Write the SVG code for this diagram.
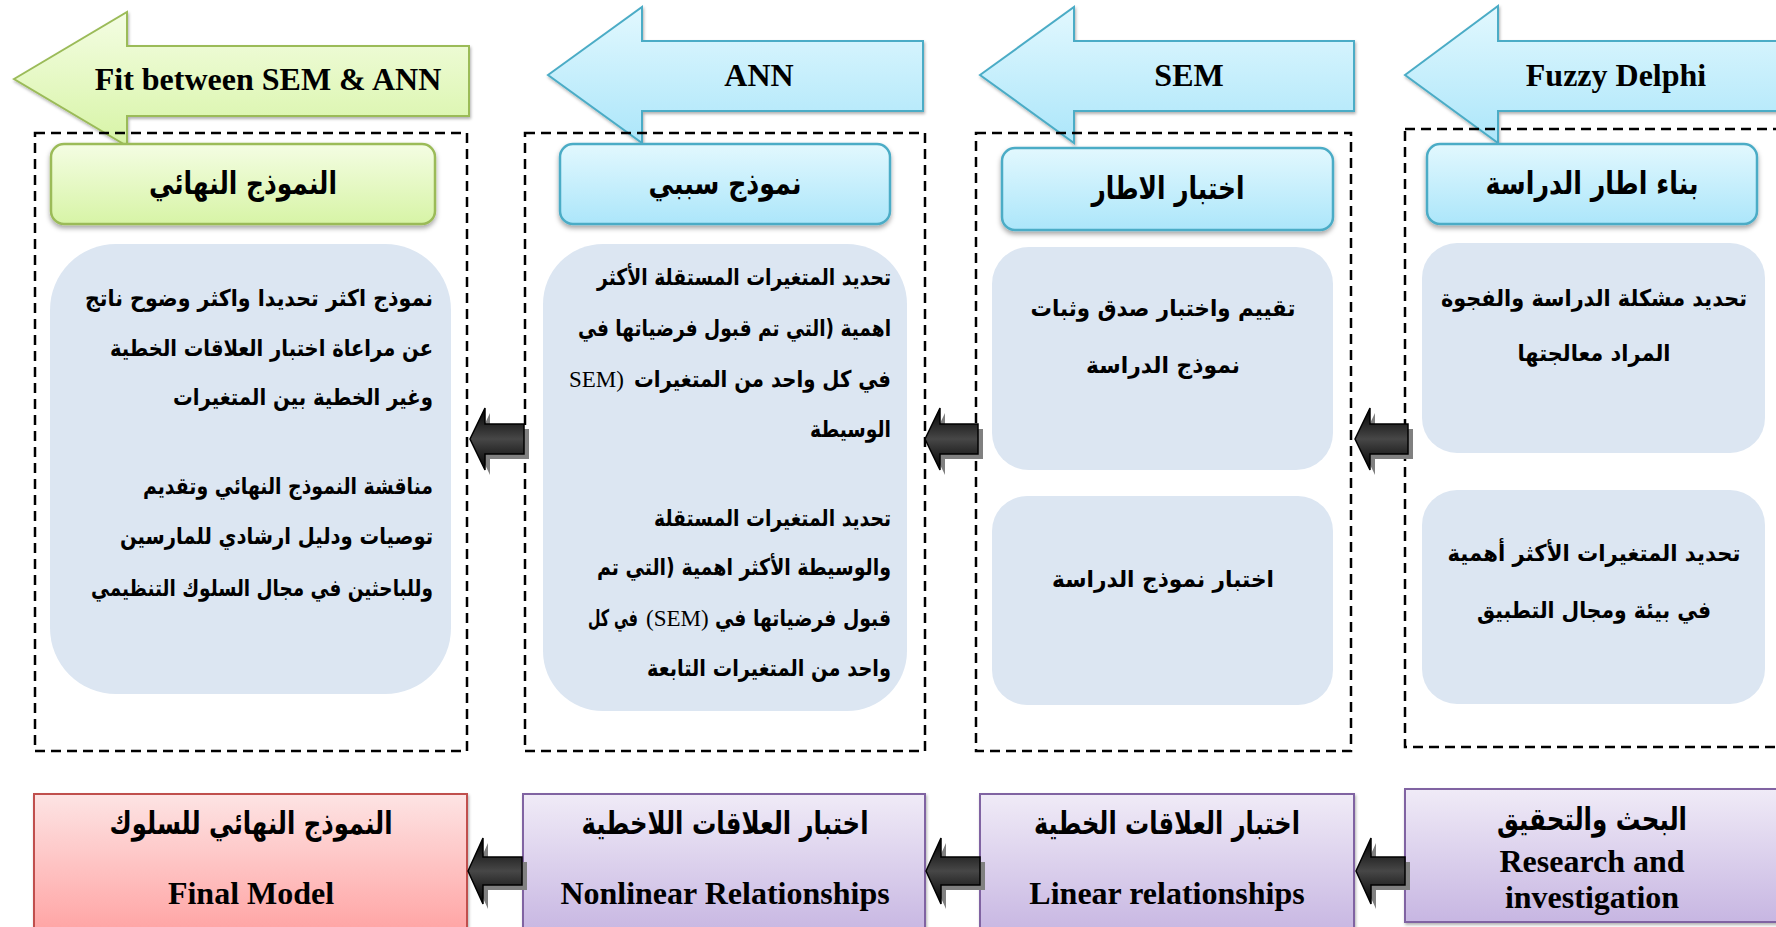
<svg xmlns="http://www.w3.org/2000/svg" width="1776" height="927" viewBox="0 0 1776 927">
  <defs>
    <linearGradient id="gBlue" x1="0" y1="0" x2="0" y2="1">
      <stop offset="0" stop-color="#e2f8fe"/>
      <stop offset="1" stop-color="#ace6fa"/>
    </linearGradient>
    <linearGradient id="gGreen" x1="0" y1="0" x2="0" y2="1">
      <stop offset="0" stop-color="#f4fde3"/>
      <stop offset="1" stop-color="#d7f4a6"/>
    </linearGradient>
    <linearGradient id="gRed" x1="0" y1="0" x2="0" y2="1">
      <stop offset="0" stop-color="#fde4e4"/>
      <stop offset="1" stop-color="#ffa3a3"/>
    </linearGradient>
    <linearGradient id="gPurple" x1="0" y1="0" x2="0" y2="1">
      <stop offset="0" stop-color="#f0ebf7"/>
      <stop offset="1" stop-color="#c7b6e2"/>
    </linearGradient>
    <linearGradient id="gBlack" x1="0" y1="0" x2="0" y2="1">
      <stop offset="0" stop-color="#000"/>
      <stop offset="0.5" stop-color="#474747"/>
      <stop offset="1" stop-color="#000"/>
    </linearGradient>
    <filter id="soft" x="-10%" y="-20%" width="120%" height="150%">
      <feDropShadow dx="0" dy="3" stdDeviation="2.5" flood-color="#000" flood-opacity="0.35"/>
    </filter>
    <filter id="softS" x="-10%" y="-20%" width="120%" height="150%">
      <feDropShadow dx="1" dy="2" stdDeviation="1.5" flood-color="#000" flood-opacity="0.3"/>
    </filter>
  </defs>
  <style>
    .en { font-family: "Liberation Serif", "Times New Roman", serif; font-weight: bold; fill: #000; }
    .ar { font-family: "DejaVu Sans", "Liberation Sans", sans-serif; font-weight: bold; fill: #000; }
    .head { font-size: 31px; }
    .body { font-size: 23px; }
    .title { font-size: 32px; }
    .lat { font-family: "Liberation Serif", "Times New Roman", serif; font-weight: normal; font-size: 23px; fill: #000; }
    .frame { fill: none; stroke: #000; stroke-width: 2.5; stroke-dasharray: 10 6; }
    .panel { fill: #dce6f2; }
    .blueArrow { fill: url(#gBlue); stroke: #4bacc6; stroke-width: 2; filter: url(#softS); }
    .greenArrow { fill: url(#gGreen); stroke: #9bbb59; stroke-width: 2; filter: url(#softS); }
    .blueHead { fill: url(#gBlue); stroke: #4bacc6; stroke-width: 2.5; filter: url(#soft); }
    .greenHead { fill: url(#gGreen); stroke: #9bbb59; stroke-width: 2.5; filter: url(#soft); }
    .redBox { fill: url(#gRed); stroke: #c0504d; stroke-width: 2; filter: url(#softS); }
    .purpleBox { fill: url(#gPurple); stroke: #8064a2; stroke-width: 2; filter: url(#softS); }
    .blk { fill: url(#gBlack); stroke: #000; stroke-width: 1.5; }
    .blkShadow { fill: #808080; }
  </style>

  <!-- stage method arrows -->
  <g id="method-fit">
    <path class="greenArrow" d="M14,79 L127,12 L127,46 L469,46 L469,116 L127,116 L127,146 Z"/>
    <text class="en title" x="268" y="90" text-anchor="middle">Fit between SEM &amp; ANN</text>
  </g>
  <g id="method-ann">
    <path class="blueArrow" d="M548,75 L642,7 L642,41 L923,41 L923,111 L642,111 L642,143 Z"/>
    <text class="en title" x="759" y="86" text-anchor="middle">ANN</text>
  </g>
  <g id="method-sem">
    <path class="blueArrow" d="M980,75 L1074,7 L1074,41 L1354,41 L1354,111 L1074,111 L1074,143 Z"/>
    <text class="en title" x="1189" y="86" text-anchor="middle">SEM</text>
  </g>
  <g id="method-fuzzy">
    <path class="blueArrow" d="M1405,75 L1498,6 L1498,41 L1790,41 L1790,111 L1498,111 L1498,143 Z"/>
    <text class="en title" x="1616" y="86" text-anchor="middle">Fuzzy Delphi</text>
  </g>

  <!-- stage 4: final model -->
  <g id="stage-final">
    <rect class="frame" x="35" y="133" width="432" height="618"/>
    <rect class="greenHead" x="51" y="144" width="384" height="80" rx="13"/>
    <text class="ar head" x="243" y="194" text-anchor="middle" textLength="188" lengthAdjust="spacingAndGlyphs">النموذج النهائي</text>
    <rect class="panel" x="50" y="244" width="401" height="450" rx="66"/>
    <g class="ar body" text-anchor="end">
      <text x="433" y="306" textLength="348" lengthAdjust="spacingAndGlyphs">نموذج اكثر تحديدا واكثر وضوح ناتج</text>
      <text x="433" y="356" textLength="323" lengthAdjust="spacingAndGlyphs">عن مراعاة اختبار العلاقات الخطية</text>
      <text x="433" y="405" textLength="260" lengthAdjust="spacingAndGlyphs">وغير الخطية بين المتغيرات</text>
      <text x="433" y="494" textLength="290" lengthAdjust="spacingAndGlyphs">مناقشة النموذج النهائي وتقديم</text>
      <text x="433" y="544" textLength="313" lengthAdjust="spacingAndGlyphs">توصيات ودليل ارشادي للمارسين</text>
      <text x="433" y="596" textLength="342" lengthAdjust="spacingAndGlyphs">وللباحثين في مجال السلوك التنظيمي</text>
    </g>
  </g>

  <!-- stage 3: causal model -->
  <g id="stage-causal">
    <rect class="frame" x="525" y="133" width="400" height="618"/>
    <rect class="blueHead" x="560" y="144" width="330" height="80" rx="13"/>
    <text class="ar head" x="725" y="194" text-anchor="middle" textLength="153" lengthAdjust="spacingAndGlyphs">نموذج سببي</text>
    <rect class="panel" x="543" y="244" width="364" height="467" rx="60"/>
    <g class="ar body" text-anchor="end">
      <text x="891" y="285" textLength="294" lengthAdjust="spacingAndGlyphs">تحديد المتغيرات المستقلة الأكثر</text>
      <text x="891" y="336" textLength="313" lengthAdjust="spacingAndGlyphs">اهمية (التي تم قبول فرضياتها في</text>
      <text x="891" y="387" textLength="257" lengthAdjust="spacingAndGlyphs">في كل واحد من المتغيرات</text>
      <text x="891" y="437" textLength="81" lengthAdjust="spacingAndGlyphs">الوسيطة</text>
      <text x="891" y="526" textLength="237" lengthAdjust="spacingAndGlyphs">تحديد المتغيرات المستقلة</text>
      <text x="891" y="575" textLength="294" lengthAdjust="spacingAndGlyphs">والوسيطة الأكثر اهمية (التي تم</text>
      <text x="891" y="626" textLength="176" lengthAdjust="spacingAndGlyphs">قبول فرضياتها في</text>
      <text x="891" y="676" textLength="244" lengthAdjust="spacingAndGlyphs">واحد من المتغيرات التابعة</text>
      <text x="638" y="626" textLength="50" lengthAdjust="spacingAndGlyphs">في كل</text>
    </g>
    <text class="lat" x="569" y="387">SEM)</text>
    <text class="lat" x="646" y="626">(SEM)</text>
  </g>

  <!-- stage 2: framework testing -->
  <g id="stage-testing">
    <rect class="frame" x="976" y="133" width="375" height="618"/>
    <rect class="blueHead" x="1002" y="148" width="331" height="82" rx="13"/>
    <text class="ar head" x="1168" y="199" text-anchor="middle" textLength="153" lengthAdjust="spacingAndGlyphs">اختبار الاطار</text>
    <rect class="panel" x="992" y="247" width="341" height="223" rx="37"/>
    <g class="ar body" text-anchor="middle">
      <text x="1163" y="316" textLength="265" lengthAdjust="spacingAndGlyphs">تقييم واختبار صدق وثبات</text>
      <text x="1163" y="373" textLength="154" lengthAdjust="spacingAndGlyphs">نموذج الدراسة</text>
    </g>
    <rect class="panel" x="992" y="496" width="341" height="209" rx="35"/>
    <text class="ar body" x="1163" y="587" text-anchor="middle" textLength="222" lengthAdjust="spacingAndGlyphs">اختبار نموذج الدراسة</text>
  </g>

  <!-- stage 1: study framework -->
  <g id="stage-framework">
    <rect class="frame" x="1405" y="129" width="380" height="618"/>
    <rect class="blueHead" x="1427" y="144" width="330" height="80" rx="13"/>
    <text class="ar head" x="1592" y="194" text-anchor="middle" textLength="213" lengthAdjust="spacingAndGlyphs">بناء اطار الدراسة</text>
    <rect class="panel" x="1422" y="243" width="343" height="210" rx="35"/>
    <g class="ar body" text-anchor="middle">
      <text x="1594" y="306" textLength="306" lengthAdjust="spacingAndGlyphs">تحديد مشكلة الدراسة والفجوة</text>
      <text x="1594" y="361" textLength="153" lengthAdjust="spacingAndGlyphs">المراد معالجتها</text>
    </g>
    <rect class="panel" x="1422" y="490" width="343" height="214" rx="35"/>
    <g class="ar body" text-anchor="middle">
      <text x="1594" y="561" textLength="293" lengthAdjust="spacingAndGlyphs">تحديد المتغيرات الأكثر أهمية</text>
      <text x="1594" y="618" textLength="234" lengthAdjust="spacingAndGlyphs">في بيئة ومجال التطبيق</text>
    </g>
  </g>

  <!-- bottom row: analysis phases -->
  <g id="phase-final">
    <rect class="redBox" x="34" y="794" width="433" height="140"/>
    <text class="ar head" x="251" y="834" text-anchor="middle" textLength="283" lengthAdjust="spacingAndGlyphs">النموذج النهائي للسلوك</text>
    <text class="en title" x="251" y="904" text-anchor="middle">Final Model</text>
  </g>
  <g id="phase-nonlinear">
    <rect class="purpleBox" x="523" y="794" width="402" height="140"/>
    <text class="ar head" x="725" y="834" text-anchor="middle" textLength="287" lengthAdjust="spacingAndGlyphs">اختبار العلاقات اللاخطية</text>
    <text class="en title" x="725" y="904" text-anchor="middle">Nonlinear Relationships</text>
  </g>
  <g id="phase-linear">
    <rect class="purpleBox" x="980" y="794" width="374" height="140"/>
    <text class="ar head" x="1167" y="834" text-anchor="middle" textLength="266" lengthAdjust="spacingAndGlyphs">اختبار العلاقات الخطية</text>
    <text class="en title" x="1167" y="904" text-anchor="middle">Linear relationships</text>
  </g>
  <g id="phase-research">
    <rect class="purpleBox" x="1405" y="789" width="380" height="133"/>
    <text class="ar head" x="1592" y="830" text-anchor="middle" textLength="190" lengthAdjust="spacingAndGlyphs">البحث والتحقيق</text>
    <text class="en title" x="1592" y="872" text-anchor="middle">Research and</text>
    <text class="en title" x="1592" y="908" text-anchor="middle">investigation</text>
  </g>

  <!-- flow connectors (block arrows pointing left) -->
  <g id="connectors">
    <g transform="translate(5,5)" class="blkShadow">
      <path d="M470,439 L485,408 L485,424 L524,424 L524,454 L485,454 L485,470 Z"/>
      <path d="M925,439 L940,408 L940,424 L978,424 L978,454 L940,454 L940,470 Z"/>
      <path d="M1355,439 L1370,408 L1370,424 L1408,424 L1408,454 L1370,454 L1370,470 Z"/>
      <path d="M468,871 L483,838 L483,857 L522,857 L522,885 L483,885 L483,904 Z"/>
      <path d="M926,871 L941,838 L941,857 L980,857 L980,885 L941,885 L941,904 Z"/>
      <path d="M1356,871 L1371,838 L1371,857 L1405,857 L1405,885 L1371,885 L1371,904 Z"/>
    </g>
    <path class="blk" d="M470,439 L485,408 L485,424 L524,424 L524,454 L485,454 L485,470 Z"/>
    <path class="blk" d="M925,439 L940,408 L940,424 L978,424 L978,454 L940,454 L940,470 Z"/>
    <path class="blk" d="M1355,439 L1370,408 L1370,424 L1408,424 L1408,454 L1370,454 L1370,470 Z"/>
    <path class="blk" d="M468,871 L483,838 L483,857 L522,857 L522,885 L483,885 L483,904 Z"/>
    <path class="blk" d="M926,871 L941,838 L941,857 L980,857 L980,885 L941,885 L941,904 Z"/>
    <path class="blk" d="M1356,871 L1371,838 L1371,857 L1405,857 L1405,885 L1371,885 L1371,904 Z"/>
  </g>
</svg>
